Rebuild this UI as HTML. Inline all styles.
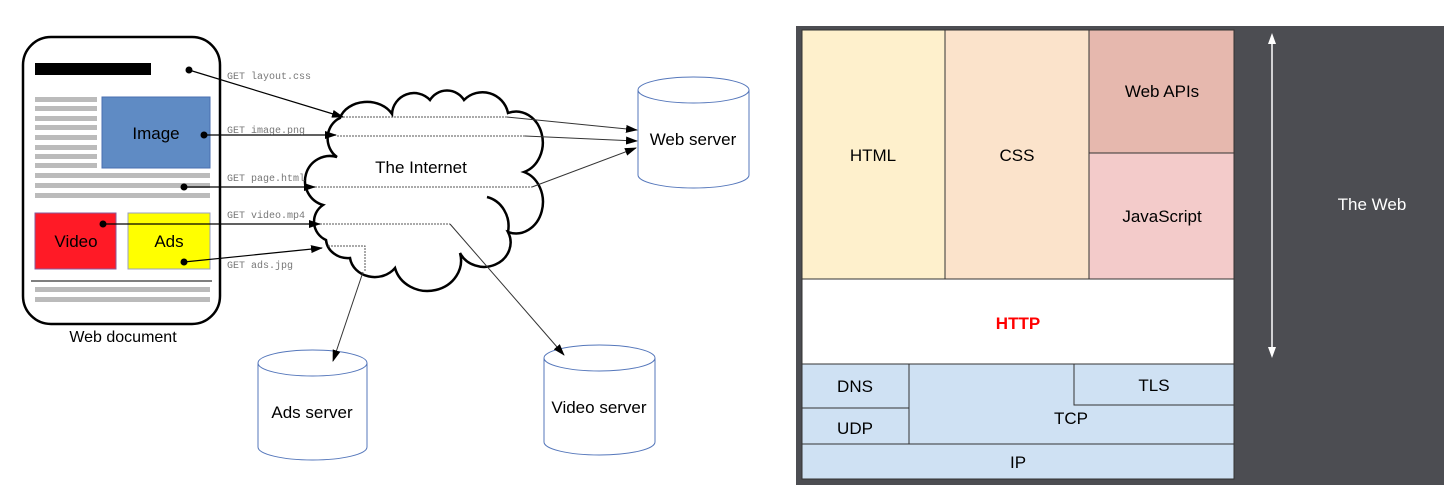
<!DOCTYPE html>
<html><head><meta charset="utf-8"><style>
html,body{margin:0;padding:0;background:#fff;width:1455px;height:504px;overflow:hidden}
svg{display:block}
text{font-family:"Liberation Sans",sans-serif}
.m{font-family:"Liberation Mono",monospace;font-size:10px;fill:#777}
</style></head><body>
<svg width="1455" height="504" viewBox="0 0 1455 504" xmlns="http://www.w3.org/2000/svg">
<defs>
<marker id="ar" markerWidth="12" markerHeight="8" refX="11" refY="4" orient="auto" markerUnits="userSpaceOnUse">
<path d="M0,0 L12,4 L0,8 z" fill="#000"/></marker>
</defs>
<!-- document -->
<rect x="23" y="37" width="197" height="287" rx="28" fill="#fff" stroke="#000" stroke-width="2.5"/>
<rect x="35" y="63" width="116" height="12" fill="#000"/>
<g fill="#bbb">
<rect x="35" y="97" width="62" height="5"/><rect x="35" y="106" width="62" height="5"/><rect x="35" y="116" width="62" height="5"/><rect x="35" y="125" width="62" height="5"/><rect x="35" y="135" width="62" height="5"/><rect x="35" y="145" width="62" height="5"/><rect x="35" y="154" width="62" height="5"/><rect x="35" y="163" width="62" height="5"/>
<rect x="35" y="173" width="175" height="5"/><rect x="35" y="183" width="175" height="5"/><rect x="35" y="193" width="175" height="5"/>
<rect x="35" y="287" width="175" height="5"/><rect x="35" y="297" width="175" height="5"/>
</g>
<rect x="102" y="97" width="108" height="71" fill="#5f8bc4" stroke="#4a6fb0"/>
<text x="156" y="139" font-size="17" text-anchor="middle">Image</text>
<rect x="35" y="213" width="81" height="56" fill="#ff1a26" stroke="#8a5a9a"/>
<text x="76" y="247" font-size="17" text-anchor="middle">Video</text>
<rect x="128" y="213" width="82" height="56" fill="#ffff00" stroke="#9aa0c0"/>
<text x="169" y="247" font-size="17" text-anchor="middle">Ads</text>
<line x1="31" y1="281" x2="212" y2="281" stroke="#333" stroke-width="1.2"/>
<text x="123" y="342" font-size="16" text-anchor="middle">Web document</text>
<!-- cloud -->
<path d="M340,118 A28,22 0 0 1 392,114 A22,22 0 0 1 430,100 A20,20 0 0 1 464,100 A26,26 0 0 1 508,113 A26,30 0 0 1 524,172 A24,28 0 0 1 508,232 A24,22 0 0 1 460,253 A33,30 0 0 1 395,268 A25,22 0 0 1 350,258 A22,20 0 0 1 326,240 A20,20 0 0 1 323,205 A24,24 0 0 1 337,157 A20,22 0 0 1 340,118 Z" fill="#fff" stroke="#000" stroke-width="2.5"/>
<path d="M487,197 A28,30 0 0 1 508,232" fill="none" stroke="#000" stroke-width="2.5"/>
<text x="421" y="173" font-size="17" text-anchor="middle">The Internet</text>
<!-- cylinders -->
<g fill="#fff" stroke="#5577bb" stroke-width="1">
<path d="M638,90 L638,175 A55.5,13 0 0 0 749,175 L749,90"/>
<ellipse cx="693.5" cy="90" rx="55.5" ry="13"/>
<path d="M258,363 L258,447 A54.5,13 0 0 0 367,447 L367,363"/>
<ellipse cx="312.5" cy="363" rx="54.5" ry="13"/>
<path d="M544,358 L544,442 A55.5,13 0 0 0 655,442 L655,358"/>
<ellipse cx="599.5" cy="358" rx="55.5" ry="13"/>
</g>
<text x="693" y="145" font-size="17" text-anchor="middle">Web server</text>
<text x="312" y="418" font-size="17" text-anchor="middle">Ads server</text>
<text x="599" y="413" font-size="17" text-anchor="middle">Video server</text>
<!-- dotted internal -->
<g fill="none" stroke="#555" stroke-width="1" stroke-dasharray="2,1">
<polyline points="343,117 507,117"/>
<polyline points="337,136 525,136"/>
<polyline points="315,187 532,187"/>
<polyline points="320,224 450,224"/>
<polyline points="328,246 365,246 365,272"/>
</g>
<g stroke="#333" stroke-width="1" fill="none" marker-end="url(#ar)">
<line x1="507" y1="117" x2="637" y2="130"/>
<line x1="525" y1="136" x2="637" y2="141"/>
<line x1="532" y1="187" x2="636" y2="148"/>
<line x1="450" y1="224" x2="564" y2="355"/>
<line x1="363" y1="272" x2="333" y2="361"/>
</g>
<!-- requests -->
<g stroke="#000" stroke-width="1.2" fill="none" marker-end="url(#ar)">
<line x1="189" y1="70" x2="343" y2="117"/>
<line x1="204" y1="135" x2="336" y2="135"/>
<line x1="184" y1="187" x2="315" y2="187"/>
<line x1="103" y1="224" x2="320" y2="224"/>
<line x1="184" y1="262" x2="322" y2="248"/>
</g>
<g fill="#000"><circle cx="189" cy="70" r="3.5"/><circle cx="204" cy="135" r="3.5"/><circle cx="184" cy="187" r="3.5"/><circle cx="103" cy="224" r="3.5"/><circle cx="184" cy="262" r="3.5"/></g>
<text class="m" x="227" y="79">GET layout.css</text>
<text class="m" x="227" y="133">GET image.png</text>
<text class="m" x="227" y="181">GET page.html</text>
<text class="m" x="227" y="218">GET video.mp4</text>
<text class="m" x="227" y="268">GET ads.jpg</text>
<!-- right panel -->
<rect x="796" y="26" width="648" height="459" fill="#4c4d52"/>
<g stroke="#333" stroke-width="1">
<rect x="802" y="30" width="143" height="249" fill="#fef0cc"/>
<rect x="945" y="30" width="144" height="249" fill="#fbe3cb"/>
<rect x="1089" y="30" width="145" height="123" fill="#e6b8ae"/>
<rect x="1089" y="153" width="145" height="126" fill="#f3cbca"/>
<rect x="802" y="279" width="432" height="85" fill="#fff"/>
<path d="M909,364 H1074 V405 H1234 V444 H909 Z" fill="#cfe1f3"/>
<rect x="802" y="364" width="107" height="44" fill="#cfe1f3"/>
<rect x="802" y="408" width="107" height="36" fill="#cfe1f3"/>
<rect x="1074" y="364" width="160" height="41" fill="#cfe1f3"/>
<rect x="802" y="444" width="432" height="35" fill="#cfe1f3"/>
</g>
<g font-size="17" text-anchor="middle">
<text x="873" y="161">HTML</text>
<text x="1017" y="161">CSS</text>
<text x="1162" y="97">Web APIs</text>
<text x="1162" y="222">JavaScript</text>
<text x="1018" y="329" fill="#ff0000" font-weight="bold">HTTP</text>
<text x="855" y="392">DNS</text>
<text x="855" y="434">UDP</text>
<text x="1154" y="391">TLS</text>
<text x="1071" y="424">TCP</text>
<text x="1018" y="468">IP</text>
<text x="1372" y="210" fill="#fff">The Web</text>
</g>
<line x1="1272" y1="38" x2="1272" y2="352" stroke="#fff" stroke-width="1.5"/>
<path d="M1268,44 L1272,33 L1276,44 Z M1268,347 L1272,358 L1276,347 Z" fill="#fff"/>
</svg>
</body></html>
